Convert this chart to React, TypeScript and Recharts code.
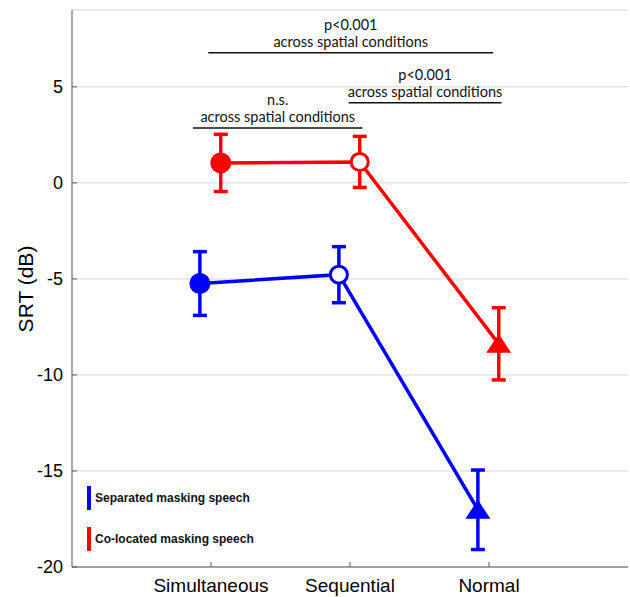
import React from "react";
import { ComposedChart, Line, XAxis, YAxis, CartesianGrid, ErrorBar, ReferenceLine } from "recharts";

const categories = ["Simultaneous", "Sequential", "Normal"];
const markerShapes = ["filled", "open", "triangle"];
const yTicks = [-20, -15, -10, -5, 0, 5];

const separatedSRT = [-5.24, -4.78, -17.02];
const separatedErr = [1.66, 1.46, 2.07];
const colocatedSRT = [1.04, 1.09, -8.38];
const colocatedErr = [1.49, 1.33, 1.88];

const seriesNames = ["Separated masking speech", "Co-located masking speech"];
const seriesColors = ["#0000ff", "#ff0000"];
const seriesDodge = [-0.08, 0.07];

// significance brackets (x in category units, y in dB)
const bracketTop = ["p<0.001", "p<0.001", "n.s."];
const bracketBottom = ["across spatial conditions", "across spatial conditions", "across spatial conditions"];
const bracketFrom = [0.98, 1.99, 0.87];
const bracketTo = [3.03, 3.09, 2.09];
const bracketLevel = [6.77, 4.17, 2.86];

const build = (vals: number[], errs: number[], dodge: number) =>
  vals.map((v, i) => ({ x: i + 1 + dodge, srt: v, err: errs[i], shape: markerShapes[i] }));

const separatedData = build(separatedSRT, separatedErr, seriesDodge[0]);
const colocatedData = build(colocatedSRT, colocatedErr, seriesDodge[1]);

const makeDot = (color: string) => (props: any) => {
  const { cx, cy, index, payload } = props;
  const key = `dot-${color}-${index}`;
  if (payload.shape === "filled") return <circle key={key} cx={cx} cy={cy} r={10.5} fill={color} />;
  if (payload.shape === "open")
    return <circle key={key} cx={cx} cy={cy} r={8.5} fill="#fff" stroke={color} strokeWidth={3} />;
  const pts = `${cx - 12.5},${cy + 9} ${cx + 12.5},${cy + 9} ${cx},${cy - 10}`;
  return <polygon key={key} points={pts} fill={color} />;
};

const annoFont = "Lato, 'Open Sans', sans-serif";

const bracketLabel = (top: string, bottom: string) => (props: any) => {
  const vb = props.viewBox || {};
  const cx = vb.x + vb.width / 2;
  const y = vb.y;
  return (
    <g>
      <text x={cx} y={y - 23} textAnchor="middle" fontSize={14.5} fontFamily={annoFont} fill="#111">{top}</text>
      <text x={cx} y={y - 6} textAnchor="middle" fontSize={14.5} fontFamily={annoFont} fill="#111">{bottom}</text>
    </g>
  );
};

const axisColor = "#595959";

export default function App() {
  return (
    <div style={{ position: "absolute", left: 0, top: 0, width: 630, height: 597, background: "#fff" }}>
      <ComposedChart width={630} height={597} margin={{ top: 10, right: 2, bottom: 0, left: 0 }}>
        <CartesianGrid xAxisId="x" yAxisId="y" vertical={false} stroke="#e4e4e4" strokeWidth={1.5} />
        <XAxis
          xAxisId="x"
          dataKey="x"
          type="number"
          domain={[0, 4]}
          ticks={[1, 2, 3]}
          tickFormatter={(v: number) => categories[v - 1]}
          height={30}
          tickSize={-5}
          tickMargin={17}
          stroke={axisColor}
          tick={{ fontSize: 19, fill: "#000", fontFamily: "Arial, 'Liberation Sans', sans-serif" }}
        />
        <XAxis
          xAxisId="top"
          orientation="top"
          type="number"
          domain={[0, 4]}
          ticks={[1, 2, 3]}
          tick={false}
          tickSize={-5}
          height={0}
          stroke={axisColor}
        />
        <YAxis
          yAxisId="y"
          type="number"
          domain={[-20, 9]}
          ticks={yTicks}
          allowDataOverflow
          width={72}
          tickSize={-5}
          tickMargin={14}
          stroke={axisColor}
          tick={{ fontSize: 18, fill: "#000", fontFamily: "Arial, 'Liberation Sans', sans-serif" }}
          label={{
            content: () => (
              <text
                x={25}
                y={289}
                transform="rotate(-90 25 289)"
                textAnchor="middle"
                dominantBaseline="central"
                fontSize={21}
                fontFamily="Arial, 'Liberation Sans', sans-serif"
                fill="#000"
              >
                SRT (dB)
              </text>
            ),
          }}
        />
        <YAxis yAxisId="r" orientation="right" type="number" domain={[-20, 9]} tick={false} tickLine={false} width={0} stroke={axisColor} />

        {bracketTop.map((t, i) => (
          <ReferenceLine
            key={`br-${i}`}
            xAxisId="x"
            yAxisId="y"
            segment={[
              { x: bracketFrom[i], y: bracketLevel[i] },
              { x: bracketTo[i], y: bracketLevel[i] },
            ]}
            stroke="#111"
            strokeWidth={1.5}
            label={{ content: bracketLabel(t, bracketBottom[i]) } as any}
          />
        ))}

        <Line
          xAxisId="x"
          yAxisId="y"
          data={separatedData}
          dataKey="srt"
          type="linear"
          stroke={seriesColors[0]}
          strokeWidth={3.5}
          dot={makeDot(seriesColors[0])}
          activeDot={false}
          isAnimationActive={false}
        >
          <ErrorBar dataKey="err" direction="y" width={7} strokeWidth={3.5} stroke={seriesColors[0]} isAnimationActive={false} />
        </Line>
        <Line
          xAxisId="x"
          yAxisId="y"
          data={colocatedData}
          dataKey="srt"
          type="linear"
          stroke={seriesColors[1]}
          strokeWidth={3.5}
          dot={makeDot(seriesColors[1])}
          activeDot={false}
          isAnimationActive={false}
        >
          <ErrorBar dataKey="err" direction="y" width={7} strokeWidth={3.5} stroke={seriesColors[1]} isAnimationActive={false} />
        </Line>
      </ComposedChart>

      {/* legend */}
      <div style={{ position: "absolute", left: 87, top: 486, fontFamily: "Arial, 'Liberation Sans', sans-serif" }}>
        {seriesNames.map((name, i) => (
          <div key={name} style={{ display: "flex", alignItems: "center", height: 24, marginBottom: i === 0 ? 17 : 0 }}>
            <div style={{ width: 4, height: 24, background: seriesColors[i], marginRight: 4 }} />
            <span style={{ fontSize: 12, fontWeight: "bold", color: "#111" }}>{name}</span>
          </div>
        ))}
      </div>
    </div>
  );
}
